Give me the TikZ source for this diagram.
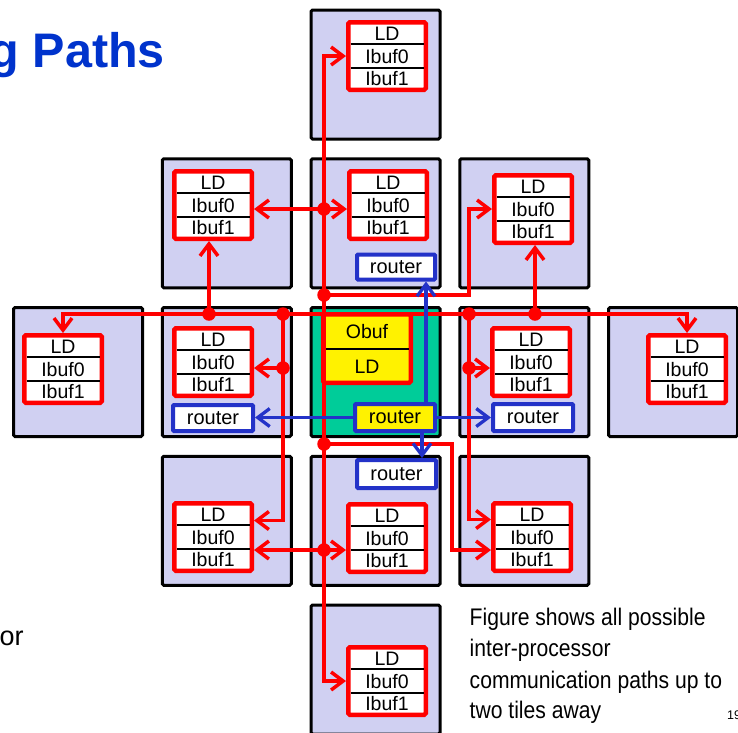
\documentclass[tikz,border=0pt]{standalone}
\usepackage{fontspec}
\setmainfont{Liberation Sans}
\newfontfamily\capfont[FakeStretch=0.88]{Liberation Sans}
\usetikzlibrary{arrows.meta,calc}

\definecolor{tilefill}{RGB}{208,208,242}
\definecolor{ctrgreen}{RGB}{0,204,153}
\definecolor{rtblue}{RGB}{35,50,200}
\definecolor{ttlblue}{RGB}{0,51,204}

\tikzset{
  tile/.style={draw=black, line width=3pt, fill=tilefill, minimum width=129pt, minimum height=129pt, inner sep=0pt, rounded corners=1.5pt},
  ldframe/.style={draw=red, line width=4.5pt, fill=white, minimum width=77.5pt, minimum height=67.5pt, inner sep=0pt, rounded corners=1.5pt},
  rowlbl/.style={minimum width=82pt, minimum height=22pt, inner sep=0pt, outer sep=0pt, font=\fontsize{19.5}{20}\selectfont, text height=14pt, text depth=0pt},
  divider/.style={draw=black, line width=2.5pt},
  router/.style={draw=rtblue, line width=4pt, fill=white, inner sep=0pt, rounded corners=1pt, font=\fontsize{20}{20}\selectfont},
  barb/.tip={Straight Barb[length=12pt,width=18pt]},
  redline/.style={draw=red, line width=3.5pt},
  redarr/.style={redline, -barb},
  redarr2/.style={redline, barb-barb},
  bluearr/.style={draw=rtblue, line width=3.3pt, -barb},
  jdot/.style={circle, fill=red, minimum size=13.5pt, inner sep=0pt},
  captxt/.style={anchor=base west, inner sep=0pt, font=\capfont\fontsize{24}{24}\selectfont}
}

\newcommand\ldbox[3]{%
  \node[ldframe] (#1) at (#2+41,#3+36) {};
  \node[rowlbl] (#1-0) at (#2+41,#3+13.5) {LD};
  \node[rowlbl] (#1-1) at (#2+41,#3+36) {Ibuf0};
  \node[rowlbl] (#1-2) at (#2+41,#3+58) {Ibuf1};
  \draw[divider] (#2+4.5,#3+24) -- (#2+77.5,#3+24);
  \draw[divider] (#2+4.5,#3+48) -- (#2+77.5,#3+48);
}

\begin{document}
\begin{tikzpicture}[x=1pt,y=-1pt]
\useasboundingbox (0,0) rectangle (738,732);
\clip (0,0) rectangle (738,732);

% title and texts
\node[anchor=base west, inner sep=0pt, text=ttlblue, font=\fontsize{48.5}{48.5}\selectfont\bfseries] (title) at (-10.5,67) {g Paths};
\node[anchor=base west, inner sep=0pt, font=\fontsize{27}{27}\selectfont] (ortxt) at (-0.5,645) {or};

% tiles
\node[tile] (t20) at (375.5,74.5) {};
\node[tile] (t11) at (226.75,223.25) {};
\node[tile] (t21) at (375.5,223.25) {};
\node[tile] (t31) at (524.25,223.25) {};
\node[tile] (t02) at (78,372) {};
\node[tile] (t12) at (226.75,372) {};
\node[tile, fill=ctrgreen] (t22) at (375.5,372) {};
\node[tile] (t32) at (524.25,372) {};
\node[tile] (t42) at (673,372) {};
\node[tile] (t13) at (226.75,520.75) {};
\node[tile] (t23) at (375.5,520.75) {};
\node[tile] (t33) at (524.25,520.75) {};
\node[tile] (t24) at (375.5,669.5) {};

% LD boxes
\ldbox{tb}{346}{20}
\ldbox{ul}{172}{169}
\ldbox{um}{347}{169}
\ldbox{ur}{492}{173}
\ldbox{ll}{22}{333}
\ldbox{ml}{172}{326}
\ldbox{mr}{490}{326}
\ldbox{rr}{646}{333}
\ldbox{dl}{172}{501}
\ldbox{dm}{346}{502}
\ldbox{dr}{491}{501}
\ldbox{bb}{346}{645}

% centre Obuf / LD box
\node[draw=red, line width=4.5pt, fill=yellow, minimum width=87.5pt, minimum height=68.5pt, inner sep=0pt, rounded corners=1.5pt] (ob) at (367,348.5) {};
\node[rowlbl, minimum width=92pt] (ob-0) at (367,331.5) {Obuf};
\node[rowlbl, minimum width=92pt] (ob-1) at (367,366) {LD};
\draw[divider] (325.5,349) -- (408.5,349);

% routers
\node[router, minimum width=78pt, minimum height=25pt] (rt) at (396,267) {router};
\node[router, minimum width=80pt, minimum height=26pt] (rl) at (213,418) {router};
\node[router, minimum width=80pt, minimum height=27pt, fill=yellow] (cr) at (395,417.5) {router};
\node[router, minimum width=80pt, minimum height=27pt] (rrt) at (533,417.5) {router};
\node[router, minimum width=79pt, minimum height=28pt] (rb) at (396.5,474) {router};

% junction dots
\node[jdot] (dA) at (324,209) {};
\node[jdot] (dB) at (324,295) {};
\node[jdot] (dC) at (324,444) {};
\node[jdot] (dD) at (324,550) {};
\node[jdot] (dE) at (209,314) {};
\node[jdot] (dF) at (283,314) {};
\node[jdot] (dG) at (283,368) {};
\node[jdot] (dH) at (469,314) {};
\node[jdot] (dI) at (469,368) {};
\node[jdot] (dJ) at (535,314) {};

% red paths
\draw[redarr2] (tb-1.west) -| (dA.center) |- (bb-1.west);
\draw[redarr2] (dA -| ul.east) -- (dA -| um.west);
\draw[redarr2] (dD -| dl.east) -- (dD -| dm.west);
\draw[redarr] (dB.center) -- (dB -| dH) |- (ur-1.west);
\draw[redarr] (dC.center) -- ++(128,0) |- (dD -| dr.west);
\draw[redarr2] (ll.north) |- (dJ.center) -| (rr.north);
\draw[redarr] (dE.center) -- (dE |- ul.south);
\draw[redarr] (dJ.center) -- (dJ |- ur.south);
\draw[redarr] (dF.center) |- ([yshift=-6pt]dl-0.east);
\draw[redarr] (dG.center) -- (dG -| ml.east);
\draw[redarr] (dH.center) |- ([yshift=-5pt]dr-0.west);
\draw[redarr] (dI.center) -- (dI -| mr.west);

% blue paths
\coordinate (bu) at ([xshift=31pt]cr.north);
\coordinate (bd) at ([xshift=27pt]cr.south);
\draw[bluearr] (cr.west) -- (cr.west -| rl.east);
\draw[bluearr] (cr.east) -- (cr.east -| rrt.west);
\draw[bluearr] (bu) -- (bu |- rt.south);
\draw[bluearr] (bd) -- (bd |- rb.north);

% caption
\node[captxt] (cap1) at (469.5,625.5) {Figure shows all possible};
\node[captxt] (cap2) at (469.5,656.5) {inter-processor};
\node[captxt] (cap3) at (469.5,688) {communication paths up to};
\node[captxt] (cap4) at (469.5,718.5) {two tiles away};
\node[anchor=base west, inner sep=0pt, font=\fontsize{12.5}{12.5}\selectfont] (pgnum) at (727,719.5) {19};
\end{tikzpicture}
\end{document}
